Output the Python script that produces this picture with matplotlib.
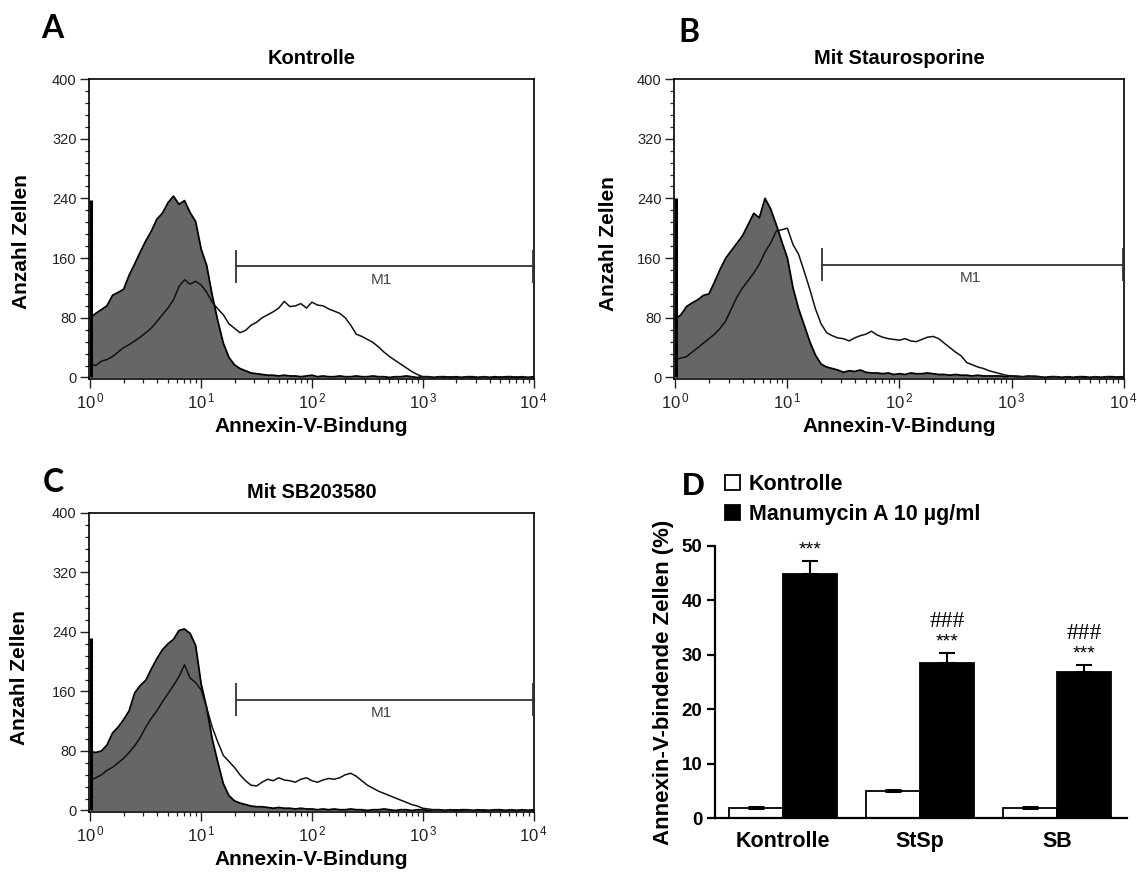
import numpy as np
import matplotlib.pyplot as plt
from matplotlib.ticker import MultipleLocator, LogLocator, NullFormatter

plt.rcParams['font.family'] = ['Liberation Sans', 'DejaVu Sans']
plt.rcParams['mathtext.fontset'] = 'custom'
plt.rcParams['mathtext.rm'] = 'Liberation Sans'
plt.rcParams['mathtext.bf'] = 'Liberation Sans:bold'

# Histogrammkanäle (log10 der Fluoreszenz), 0.05 Dekaden Abstand
log_channel = np.linspace(0, 4, 81)
fluor = 10 ** log_channel

# A: Kontrolle  (gefüllt = ohne Manumycin, Linie = Manumycin A)
A_ctrl = [80, 86, 91, 96, 110, 114, 118, 137, 152, 168,
          183, 196, 212, 220, 234, 243, 232, 237, 221, 209,
          172, 150, 110, 76, 46, 27, 17, 12, 9, 6,
          5, 4, 3, 3, 2, 3, 2, 2, 1, 2,
          3, 1, 2, 1, 1, 2, 1, 1, 2, 1,
          1, 2, 1, 1, 0, 1, 1, 2, 1, 0,
          1, 1, 0, 1, 1, 0, 1, 0, 1, 1,
          0, 1, 0, 1, 0, 1, 1, 0, 1, 0,
          1]
A_mm = [18, 16, 22, 24, 28, 34, 40, 44, 49, 54,
        60, 66, 75, 84, 93, 104, 122, 131, 125, 129,
        124, 114, 101, 92, 84, 72, 66, 60, 63, 70,
        74, 80, 84, 88, 93, 102, 95, 96, 99, 93,
        101, 97, 96, 92, 89, 86, 80, 70, 58, 55,
        51, 47, 41, 34, 28, 23, 18, 13, 8, 4,
        1, 1, 0, 1, 0, 1, 0, 0, 1, 0,
        0, 1, 0, 0, 1, 0, 0, 1, 0, 0,
        0]

# B: Mit Staurosporine
B_ctrl = [78, 84, 95, 100, 104, 110, 112, 128, 145, 160,
          170, 180, 190, 205, 220, 214, 240, 226, 205, 182,
          160, 120, 92, 70, 48, 30, 18, 14, 12, 10,
          7, 9, 8, 10, 7, 6, 6, 5, 6, 4,
          5, 4, 6, 5, 5, 6, 5, 4, 4, 3,
          4, 3, 3, 2, 3, 2, 2, 2, 2, 1,
          2, 1, 1, 2, 1, 1, 0, 1, 1, 0,
          1, 0, 1, 1, 0, 1, 0, 1, 1, 0,
          1]
B_mm = [24, 26, 28, 34, 40, 46, 52, 58, 66, 76,
        92, 108, 120, 130, 140, 152, 168, 180, 196, 198,
        200, 178, 165, 142, 118, 92, 72, 60, 56, 53,
        52, 49, 53, 56, 58, 62, 57, 54, 52, 51,
        50, 52, 49, 48, 51, 54, 55, 52, 46, 40,
        34, 29, 20, 17, 14, 12, 9, 7, 5, 3,
        2, 2, 1, 1, 2, 1, 0, 1, 1, 0,
        1, 0, 1, 0, 0, 1, 0, 1, 0, 1,
        1]

# C: Mit SB203580
C_ctrl = [79, 78, 80, 88, 104, 112, 122, 134, 158, 168,
          175, 190, 204, 216, 224, 230, 242, 244, 238, 222,
          170, 138, 96, 65, 36, 20, 13, 10, 8, 6,
          5, 5, 4, 3, 4, 3, 3, 2, 3, 2,
          2, 1, 2, 1, 2, 1, 1, 2, 1, 1,
          0, 1, 1, 2, 1, 0, 1, 1, 0, 1,
          1, 0, 1, 1, 0, 1, 0, 1, 1, 0,
          1, 0, 0, 1, 1, 0, 1, 0, 1, 0,
          1]
C_mm = [41, 44, 48, 54, 58, 64, 70, 78, 87, 98,
        112, 124, 134, 146, 157, 168, 180, 196, 178, 172,
        162, 138, 112, 92, 74, 66, 58, 48, 40, 34,
        33, 38, 42, 40, 44, 41, 40, 38, 42, 44,
        40, 38, 41, 43, 42, 44, 48, 50, 46, 40,
        34, 30, 26, 23, 20, 17, 14, 11, 8, 6,
        3, 2, 1, 1, 0, 1, 1, 0, 1, 0,
        0, 1, 0, 1, 0, 0, 1, 0, 1, 0,
        1]

# Zellen im ersten Kanal (Spitze bei 10^0)
first_channel = [238, 240, 232]

# Marker M1
gate_lo = 20.5
gate_hi = 10 ** 3.995
gate_y = [149, 151, 149]
m1_x = 427

# D: Balkendiagramm
groups = ['Kontrolle', 'StSp', 'SB']
ctrl_mean = [1.8, 4.9, 1.9]
ctrl_err = [0.2, 0.2, 0.1]
mm_mean = [44.8, 28.4, 26.8]
mm_err = [2.4, 2.0, 1.4]
stars = ['***', '***', '***']
hashes = ['', '###', '###']

fig = plt.figure(figsize=(11.37, 8.73), dpi=100)


def draw_hist(rect, title, filled, line, spike, gy, ylab_xy):
    ax = fig.add_axes(rect)
    ax.fill_between(fluor, filled, 0, color='#666666', lw=0, zorder=1)
    ax.plot(fluor, filled, color='black', lw=1.3, zorder=2)
    ax.plot(fluor, line, color='#111111', lw=1.1, zorder=3)
    ax.vlines(1.006, 0, spike, color='black', lw=2.2, zorder=4)
    ax.plot([gate_lo, gate_hi], [gy, gy], color='#333333', lw=1.3, zorder=5)
    ax.vlines([gate_lo, gate_hi], gy - 22, gy + 22, color='#333333', lw=1.3, zorder=5)
    ax.text(m1_x, gy - 18, 'M1', ha='center', va='center', fontsize=11, color='#444444')
    ax.set_xscale('log')
    ax.set_xlim(10 ** -0.012, 10 ** 4.004)
    ax.set_ylim(-2, 400)
    ax.set_xticks([1, 10, 100, 1000, 10000])
    ax.set_xticklabels([r'$\mathregular{10^{\,%d}}$' % i for i in range(5)], fontsize=12)
    ax.xaxis.set_minor_locator(LogLocator(base=10, subs=np.arange(2, 10), numticks=20))
    ax.xaxis.set_minor_formatter(NullFormatter())
    ax.set_yticks([0, 80, 160, 240, 320, 400])
    ax.yaxis.set_minor_locator(MultipleLocator(16))
    ax.tick_params(which='major', length=6.5, width=1.0, colors='#222222', pad=2.5)
    ax.tick_params(axis='y', labelsize=10.5)
    ax.tick_params(which='minor', length=3, width=0.9, colors='#222222')
    for s in ax.spines.values():
        s.set_linewidth(1.2)
    ax.set_title(title, fontsize=14.5, fontweight='bold', pad=11)
    ax.set_xlabel('Annexin-V-Bindung', fontsize=15, fontweight='bold', labelpad=4)
    ax.set_ylabel('Anzahl Zellen', fontsize=15, fontweight='bold')
    ax.yaxis.set_label_coords(*ylab_xy)
    return ax


draw_hist([0.0783, 0.5659, 0.3914, 0.3436], 'Kontrolle', A_ctrl, A_mm,
          first_channel[0], gate_y[0], (-0.13, 0.457))
draw_hist([0.5928, 0.5659, 0.3958, 0.3436], 'Mit Staurosporine', B_ctrl, B_mm,
          first_channel[1], gate_y[1], (-0.125, 0.453))
draw_hist([0.0783, 0.0699, 0.3914, 0.3425], 'Mit SB203580', C_ctrl, C_mm,
          first_channel[2], gate_y[2], (-0.135, 0.448))

# Panel D
axd = fig.add_axes([0.6289, 0.0630, 0.3624, 0.3116])
x = np.arange(len(groups))
w = 0.394
b1 = axd.bar(x - w / 2, ctrl_mean, w, color='white', edgecolor='black', lw=1.3, zorder=2)
b2 = axd.bar(x + w / 2, mm_mean, w, color='black', edgecolor='black', lw=1.3, zorder=2)
axd.errorbar(x - w / 2, ctrl_mean, yerr=[[0] * 3, ctrl_err], fmt='none', ecolor='black',
             elinewidth=1.5, capsize=5.5, capthick=2.2, zorder=3)
axd.errorbar(x + w / 2, mm_mean, yerr=[[0] * 3, mm_err], fmt='none', ecolor='black',
             elinewidth=1.5, capsize=5.5, capthick=1.5, zorder=3)
for i in range(len(groups)):
    top = mm_mean[i] + mm_err[i]
    axd.text(x[i] + w / 2, top + 2.0, stars[i], ha='center', va='center', fontsize=14)
    if hashes[i]:
        axd.text(x[i] + w / 2, top + 5.7, hashes[i], ha='center', va='center',
                 fontsize=17, family=['Liberation Serif', 'DejaVu Serif'])
axd.set_xlim(-0.496, 2.511)
axd.set_ylim(0, 50)
axd.set_yticks([0, 10, 20, 30, 40, 50])
axd.set_xticks(x)
axd.set_xticklabels(groups, fontsize=15.5, fontweight='bold')
axd.tick_params(axis='x', length=0, pad=9)
axd.tick_params(axis='y', length=6, width=1.6, labelsize=13.5, pad=3)
for lab in axd.get_yticklabels():
    lab.set_fontweight('bold')
axd.spines['top'].set_visible(False)
axd.spines['right'].set_visible(False)
axd.spines['left'].set_linewidth(1.6)
axd.spines['bottom'].set_linewidth(1.6)
axd.set_ylabel('Annexin-V-bindende Zellen (%)', fontsize=16, fontweight='bold')
axd.yaxis.set_label_coords(-0.1, 0.5)
axd.legend([b1, b2], ['Kontrolle', 'Manumycin A 10 µg/ml'], loc='upper left',
           bbox_to_anchor=(0.6376, 0.457), bbox_transform=fig.transFigure,
           frameon=False, prop={'size': 15.5, 'weight': 'bold'},
           handlelength=0.7, handleheight=0.7, handletextpad=0.4,
           labelspacing=0.4, borderpad=0, borderaxespad=0)

# Panelbuchstaben
fig.text(0.036, 0.9565, 'A', fontsize=23, fontweight='bold', family='Lato', va='baseline')
fig.text(0.597, 0.952, 'B', fontsize=23, fontweight='bold', family='Lato', va='baseline')
fig.text(0.0378, 0.4364, 'C', fontsize=23, fontweight='bold', family='Lato', va='baseline')
fig.text(0.5998, 0.433, 'D', fontsize=23, fontweight='bold', va='baseline')

fig.savefig('out.png', dpi=100)
